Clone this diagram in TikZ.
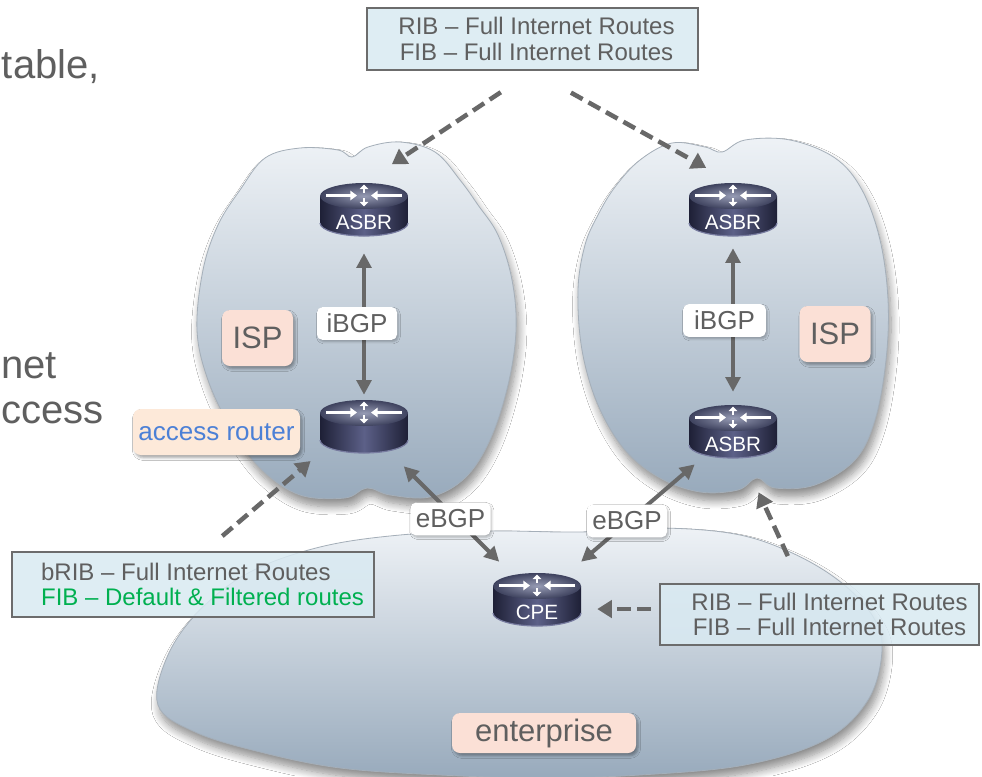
\documentclass[tikz,border=0pt]{standalone}
\usepackage{fontspec}
\setmainfont{Liberation Sans}
\usetikzlibrary{arrows.meta,shadows.blur}

\definecolor{txtgray}{RGB}{95,95,95}
\definecolor{linegray}{RGB}{104,104,104}
\definecolor{boxblue}{RGB}{217,234,242}
\definecolor{boxedge}{RGB}{108,108,108}
\definecolor{tagpink}{RGB}{251,224,214}
\definecolor{tagpeach}{RGB}{253,233,217}
\definecolor{routeblue}{RGB}{76,128,214}
\definecolor{fibgreen}{RGB}{0,176,80}
\definecolor{cloudtop}{RGB}{238,242,246}
\definecolor{cloudmid}{RGB}{210,220,229}
\definecolor{cloudbot}{RGB}{152,170,188}
\definecolor{cloudedge}{RGB}{165,175,185}
\definecolor{rbody}{RGB}{30,32,54}
\definecolor{rbodymid}{RGB}{92,96,136}
\definecolor{rtopin}{RGB}{150,155,180}
\definecolor{rtopout}{RGB}{62,66,94}
\definecolor{rrim}{RGB}{120,124,160}

% Router icon: #1,#2 = centre x and top-face y (y measured downward),
% #3 = label, #4 = node name
\newcommand{\routerat}[4]{%
  \begin{scope}[shift={(#1,-#2)}]
    \path[left color=rbody,right color=rbody,middle color=rbodymid]
      (-44,0) -- (-44,-27) arc[start angle=180,end angle=360,x radius=33pt,y radius=9.75pt] -- (44,0) -- cycle;
    \draw[rrim,line width=0.9pt] (-44,-27) arc[start angle=180,end angle=360,x radius=33pt,y radius=9.75pt];
    \path[inner color=rtopin,outer color=rtopout] (0,0) ellipse[x radius=33pt,y radius=9.75pt];
    \draw[ricon,-{Triangle[length=5pt,width=7pt]}] (-38,0.5) -- (-7,0.5);
    \draw[ricon,-{Triangle[length=5pt,width=7pt]}] (38,0.5) -- (7,0.5);
    \draw[ricon,-{Triangle[length=3.5pt,width=6.5pt]}] (0,3) -- (0,11.5);
    \draw[ricon,-{Triangle[length=3.5pt,width=6.5pt]}] (0,-2) -- (0,-10.5);
  \end{scope}
  \node[routerbox] (#4) at (#1,-#2-13.5) {};
  \node[routertxt] (#4-txt) at (#1,-#2-26) {#3};
}

\begin{document}
\begin{tikzpicture}[x=0.75pt,y=0.75pt,
  ricon/.style={white,line width=2pt},
  routerbox/.style={minimum width=66pt,minimum height=39.75pt,inner sep=0pt,draw=none},
  routertxt/.style={text=white,font=\fontsize{15.5}{16}\selectfont,inner sep=0pt},
  cloudbody/.style={top color=cloudtop,middle color=cloudmid,bottom color=cloudbot,
    draw=cloudedge,line width=0.6pt,
    blur shadow={shadow xshift=2pt,shadow yshift=-6pt,shadow blur radius=6pt,shadow blur steps=10,shadow opacity=45}},
  infobox/.style={fill=boxblue,fill opacity=0.85,text opacity=1,draw=boxedge,line width=1.9pt,
    text=txtgray,font=\fontsize{18}{19}\selectfont,inner sep=0pt},
  tagbox/.style={rounded corners=6pt,inner sep=0pt,text=txtgray,
    blur shadow={shadow xshift=1.5pt,shadow yshift=-2pt,shadow blur radius=2pt,shadow opacity=35}},
  peerlbl/.style={fill=white,rounded corners=4pt,minimum width=60pt,minimum height=24.5pt,inner sep=0pt,
    text=txtgray,font=\fontsize{19.5}{20}\selectfont,
    blur shadow={shadow xshift=1pt,shadow yshift=-1.5pt,shadow blur radius=1.5pt,shadow opacity=25}},
  solidarr/.style={draw=linegray,line width=3pt,
    {Triangle[length=11pt,width=11pt]}-{Triangle[length=11pt,width=11pt]}},
  dasharr/.style={draw=linegray,line width=3.4pt,dash pattern=on 10pt off 5pt,
    -{Triangle[length=11pt,width=13pt]}},
  bigtxt/.style={text=txtgray,font=\fontsize{30}{36}\selectfont,inner sep=0pt}
]
\fill[white] (0,0) rectangle (982,-776);
\useasboundingbox (0,0) rectangle (982,-776);

% clouds
\path[cloudbody] plot[smooth cycle,tension=0.6] coordinates {(158,-705) (168,-655) (200,-610) (250,-572) (320,-547) (400,-535) (490,-531) (580,-532) (660,-528) (735,-534) (790,-552) (838,-580) (872,-615) (882,-650) (868,-700) (825,-740) (745,-765) (640,-775) (540,-778) (440,-775) (340,-768) (260,-752) (195,-732)};
\path[cloudbody] plot[smooth cycle,tension=0.6] coordinates {(240,-190) (265,-158) (300,-148) (338,-150) (352,-157) (368,-147) (400,-142) (435,-152) (460,-180) (478,-205) (498,-235) (512,-280) (516,-330) (508,-385) (490,-440) (465,-478) (430,-497) (390,-495) (367,-488) (345,-498) (300,-495) (262,-470) (232,-430) (208,-380) (197,-330) (203,-270) (218,-225)};
\path[cloudbody] plot[smooth cycle,tension=0.6] coordinates {(598,-215) (615,-187) (640,-160) (672,-143) (705,-147) (722,-152) (745,-140) (790,-140) (835,-158) (862,-190) (880,-240) (888,-300) (886,-360) (875,-420) (855,-460) (815,-485) (775,-488) (757,-478) (738,-490) (700,-492) (660,-478) (625,-450) (598,-405) (582,-350) (578,-290) (585,-245)};

% text at the left margin
\node[bigtxt,anchor=base east] (t1) at (100,-78) {table,};
\node[bigtxt,anchor=base east] (t2) at (57,-378) {net};
\node[bigtxt,anchor=base west] (t3) at (1,-423) {ccess};

% routers
\routerat{364}{196}{ASBR}{asbrL}
\routerat{733}{196}{ASBR}{asbrR}
\routerat{364}{413}{}{accR}
\routerat{733}{418}{ASBR}{asbrB}
\routerat{537}{586}{CPE}{cpe}

% route table boxes
\node[infobox,minimum width=248.25pt,minimum height=46.5pt,align=center] (ribTop) at (532.5,-39)
  {\hspace*{6pt}RIB – Full Internet Routes\\\hspace*{6pt}FIB – Full Internet Routes};
\node[infobox,minimum width=271.5pt,minimum height=48.75pt,align=left] (brib) at (193,-584.5)
  {\hspace*{14.25pt}bRIB – Full Internet Routes\\\hspace*{14.25pt}\textcolor{fibgreen}{FIB – Default \& Filtered routes}};
\node[infobox,minimum width=239.25pt,minimum height=45.75pt,align=center] (ribR) at (819.5,-614.5)
  {\hspace*{15pt}RIB – Full Internet Routes\\\hspace*{15pt}FIB – Full Internet Routes};

% tags
\node[tagbox,fill=tagpink,minimum width=53.25pt,minimum height=42pt,font=\fontsize{23.25}{24}\selectfont] (ispL) at (257.5,-338) {ISP};
\node[tagbox,fill=tagpink,minimum width=53.25pt,minimum height=42pt,font=\fontsize{23.25}{24}\selectfont] (ispR) at (835,-334) {ISP};
\node[tagbox,fill=tagpeach,text=routeblue,minimum width=125.25pt,minimum height=34.5pt,font=\fontsize{19.5}{20}\selectfont] (accTag) at (216.5,-432) {access router};
\node[tagbox,fill=tagpink,minimum width=138pt,minimum height=30pt,font=\fontsize{23.25}{24}\selectfont] (entTag) at (544,-733) {enterprise};

% peering sessions
\draw[solidarr,shorten <=12.75pt,shorten >=3.75pt] (asbrL.south) -- (accR.north);
\draw[solidarr,shorten <=9pt,shorten >=9.75pt] (asbrR.south) -- (asbrB.north);
\draw[solidarr,shorten <=13.8pt,shorten >=11.7pt] (accR) -- (cpe);
\draw[solidarr,shorten <=7pt,shorten >=12.7pt] (asbrB) -- (cpe);

% which table lives where
\draw[dasharr,shorten <=28.5pt,shorten >=25pt] (ribTop.south) -- (asbrL.north);
\draw[dasharr,shorten <=33pt,shorten >=23pt] (ribTop.south) -- (asbrR.north);
\draw[dasharr,shorten <=17pt,shorten >=9pt] ([xshift=9pt]brib.north) -- (accR.south west);
\draw[dasharr,shorten <=6pt,shorten >=12pt] ([yshift=4.1pt]ribR.west) -- ([yshift=4.1pt]ribR.west -| cpe.east);
\draw[dasharr,shorten <=22pt,shorten >=28pt] ([xshift=-14.6pt]ribR.north) -- ([xshift=7.5pt]asbrB.south);

% session labels
\node[peerlbl] (ibL) at (357,-323.5) {iBGP};
\node[peerlbl,minimum width=62pt] (ibR) at (724.5,-320.5) {iBGP};
\node[peerlbl] (ebL) at (450.5,-519) {eBGP};
\node[peerlbl] (ebR) at (627,-521) {eBGP};
\end{tikzpicture}
\end{document}
